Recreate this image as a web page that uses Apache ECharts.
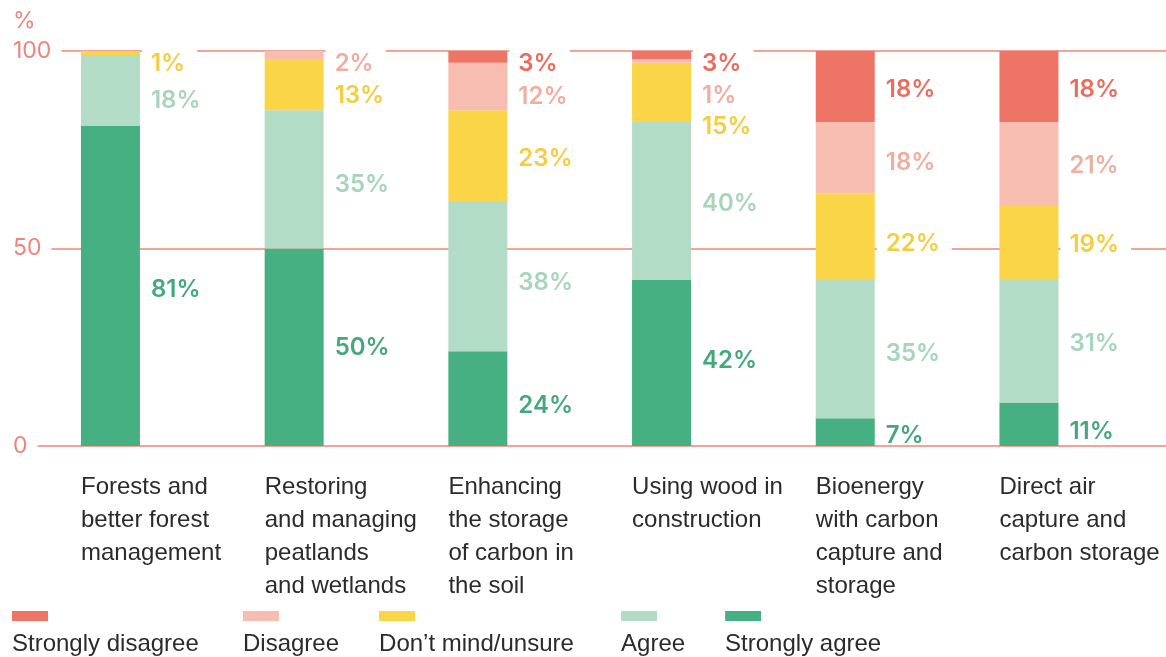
<!DOCTYPE html>
<html>
<head>
<meta charset="utf-8">
<script src="https://cdn.jsdelivr.net/npm/echarts@6/dist/echarts.min.js"></script>
<style>
html,body{margin:0;padding:0;background:#fff;}
#chart{width:1166px;height:657px;}
</style>
</head>
<body>
<div id="chart"></div>
<script>
// ---- Data ----
const categories = [
  'Forests and\nbetter forest\nmanagement',
  'Restoring\nand managing\npeatlands\nand wetlands',
  'Enhancing\nthe storage\nof carbon in\nthe soil',
  'Using wood in\nconstruction',
  'Bioenergy\nwith carbon\ncapture and\nstorage',
  'Direct air\ncapture and\ncarbon storage'
];
const stronglyAgree    = [81, 50, 24, 42, 7, 11];
const agree            = [18, 35, 38, 40, 35, 31];
const unsure           = [1, 13, 23, 15, 22, 19];
const disagree         = [0, 2, 12, 1, 18, 21];
const stronglyDisagree = [0, 0, 3, 3, 18, 18];
const yTicks = [0, 50, 100];
const seriesNames = ['Strongly agree', 'Agree', "Don\u2019t mind/unsure", 'Disagree', 'Strongly disagree'];
const legendOrder = ['Strongly disagree', 'Disagree', "Don\u2019t mind/unsure", 'Agree', 'Strongly agree'];

// ---- Styles ----
const barColors   = ['#47b083', '#b3dcc6', '#f9d547', '#f6bdb0', '#ee7565'];
const labelColors = ['#45a87c', '#a6d5bc', '#f5cd3f', '#f2ada1', '#ea6c5d'];
const labelBg     = ['transparent', '#fff', '#fff', '#fff', '#fff'];
const labelShift = [
  [4, 1, 7, -2, 4, 8],
  [10, 5, 7, 3, 5, 2],
  [11, 11, 3, 34, 7, 2],
  [0, 9, 10, 35, 5, 2],
  [0, 0, 7, 9, 3, 3]
];
const legendTextWidths = [191, 95, 202, 63, 0];
const salmon = '#e9877a';
const gridColor = '#f2a496';
const textDark = '#2b2b2b';

const allValues = [stronglyAgree, agree, unsure, disagree, stronglyDisagree];

const chart = echarts.init(document.getElementById('chart'));

const gTop = 51, gBottom = 211;
const barLeft = 18.6, barRight = 45.2;
// label grid: ticks at left edges of bars (boundaryGap false)
const lblLeft = 81, lblRight = 1166 - (81 + 5 * 183.7);

const seriesList = allValues.map((vals, si) => ({
  name: seriesNames[si],
  type: 'bar',
  stack: 'total',
  xAxisIndex: 1,
  yAxisIndex: 1,
  barWidth: 59,
  itemStyle: { color: barColors[si] },
  label: {
    show: true,
    position: 'right',
    distance: 2,
    formatter: '{c}%',
    color: labelColors[si],
    fontFamily: 'Inter',
    fontWeight: 600,
    fontSize: 24,
    lineHeight: 20,
    backgroundColor: labelBg[si],
    padding: [10, 12, 0, 9]
  },
  emphasis: { disabled: true },
  data: vals.map((v, ci) => ({
    value: v,
    label: v === 0 ? { show: false } : { offset: [0, labelShift[si][ci]] }
  }))
}));

// legend swatches via rich text
const rich = {};
legendOrder.forEach((n, i) => {
  const si = seriesNames.indexOf(n);
  rich['s' + i] = { backgroundColor: barColors[si], width: 36, height: 10, lineHeight: 20 };
  const t = { fontFamily: 'Liberation Sans', fontSize: 24, color: textDark, lineHeight: 36 };
  if (legendTextWidths[i]) t.width = legendTextWidths[i];
  rich['t' + i] = t;
});

const option = {
  animation: false,
  backgroundColor: '#fff',
  grid: [
    { left: 10, right: 0, top: gTop, bottom: gBottom },
    { left: barLeft, right: barRight, top: gTop, bottom: gBottom },
    { left: lblLeft, right: lblRight, top: gTop, bottom: gBottom }
  ],
  xAxis: [
    { gridIndex: 0, type: 'category', data: categories, show: false },
    { gridIndex: 1, type: 'category', data: categories, show: false },
    {
      gridIndex: 2, type: 'category', data: categories, boundaryGap: false,
      axisLine: { show: false }, axisTick: { show: false },
      axisLabel: {
        align: 'left', verticalAlign: 'top', margin: 25,
        fontFamily: 'Liberation Sans', fontSize: 24, lineHeight: 33, color: textDark,
        interval: 0
      }
    }
  ],
  yAxis: [
    {
      gridIndex: 0, type: 'value', min: yTicks[0], max: yTicks[yTicks.length - 1], interval: yTicks[1] - yTicks[0],
      name: '%', nameLocation: 'end', nameGap: 18,
      nameTextStyle: { align: 'left', color: salmon, fontFamily: 'Inter', fontSize: 23, padding: [0, 0, 0, 3] },
      axisLine: { show: false }, axisTick: { show: false },
      splitLine: { lineStyle: { color: gridColor, width: 2 } },
      axisLabel: {
        inside: true, margin: 0, color: salmon, fontFamily: 'Inter', fontSize: 23,
        backgroundColor: '#fff', padding: [3, 10, 3, 3]
      }
    },
    { gridIndex: 1, type: 'value', min: 0, max: 100, show: false, splitLine: { show: false } },
    { gridIndex: 2, type: 'value', min: 0, max: 100, show: false, splitLine: { show: false } }
  ],
  legend: {
    data: legendOrder,
    left: 7, top: 610, padding: 0,
    itemWidth: 0, itemHeight: 0, itemGap: 35,
    itemStyle: { opacity: 0 },
    selectedMode: false,
    formatter: function (name) {
      const i = legendOrder.indexOf(name);
      return '{s' + i + '|}\n{t' + i + '|' + name + '}';
    },
    textStyle: { rich: rich }
  },
  series: seriesList
};
chart.setOption(option);
</script>
</body>
</html>
